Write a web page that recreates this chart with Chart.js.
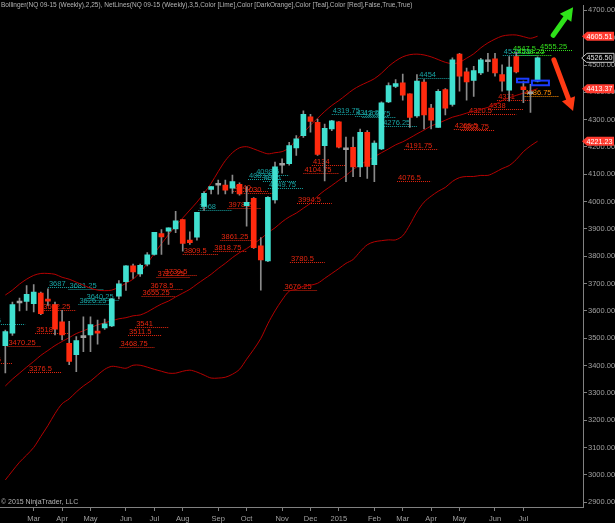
<!DOCTYPE html>
<html>
<head>
<meta charset="utf-8">
<script src="https://cdn.jsdelivr.net/npm/chart.js@4.4.0/dist/chart.umd.min.js"></script>
<style>
  html, body { margin: 0; padding: 0; background: #000; }
  #wrap { width: 615px; height: 523px; }
</style>
</head>
<body>
<div id="wrap"><canvas id="chart" width="615" height="523"></canvas></div>
<script>
// NQ 09-15 weekly bars, week ending 7 Feb 2014 .. 17 Jul 2015 (bar index 0..75)
const opens = [3473,3518,3629,3635,3626,3665,3641,3623,3560,3481,
  3440,3502,3512,3526,3538,3545,3654,3707,3765,3735,
  3771,3807,3883,3892,3900,3934,3859,3870,3982,4045,
  4060,4061,4049,4063,3985,4012,3838,3783,4006,4133,
  4139,4197,4241,4310,4290,4205,4266,4292,4190,4199,
  4127,4254,4135,4193,4365,4422,4435,4395,4314,4438,
  4342,4272,4410,4356,4540,4475,4444,4471,4512,4523,
  4465,4408,4531,4420,4395,4441];
const highs = [3530,3632,3647,3693,3696,3669,3681,3632,3602,3562,
  3506,3578,3578,3566,3570,3645,3711,3766,3771,3771,
  3813,3888,3898,3904,3964,3934,3889,3961,4037,4055,
  4079,4079,4097,4069,4055,4015,3868,4018,4145,4157,
  4217,4242,4332,4320,4302,4284,4298,4293,4236,4236,
  4266,4260,4223,4365,4435,4447,4467,4395,4465,4447,
  4356,4410,4414,4526,4543,4489,4495,4525,4543,4543,
  4501,4531,4547.5,4441,4429,4530];
const lows = [3373,3510,3600,3602,3596,3586,3620,3512,3494,3403,
  3377,3451,3451,3478,3532,3542,3644,3675,3719,3726,
  3765,3804,3807,3843,3886,3819,3843,3859,3968,4028,
  4027,4028,4030,4024,3910,3829,3676,3780,3994,4104,
  4133,4169,4235,4254,4169,4076,4260,4197,4073,4091,
  4091,4085,4073,4190,4362,4417,4371,4272,4308,4266,
  4266,4272,4317,4349,4404,4371,4385,4465,4477,4459,
  4404,4368,4471,4362,4327,4438];
const closes = [3524,3623,3629,3661,3669,3590,3636,3533,3512,3415,
  3491,3502,3550,3518,3553,3644,3699,3765,3743,3767,
  3805,3888,3871,3904,3930,3847,3850,3961,4030,4055,
  4060,4042,4073,4028,3997,3831,3787,4016,4127,4133,
  4205,4230,4320,4294,4173,4268,4296,4199,4190,4127,
  4254,4129,4214,4362,4425,4432,4390,4308,4441,4317,
  4298,4404,4342,4519,4459,4438,4480,4519,4512,4471,
  4441,4493,4475,4410,4395,4526.5];

// Bollinger(2,25)
const bbUpper = [3658,3676,3698,3716,3730,3737,3737,3734,3723,3716,
  3705,3694,3683,3676,3674,3676,3687,3701,3716,3741,
  3774,3810,3846,3879,3911,3940,3969,3998,4031,4067,
  4110,4150,4179,4197,4201,4193,4183,4175,4179,4183,
  4197,4226,4251,4280,4305,4330,4352,4370,4390,4410,
  4425,4437,4450,4470,4495,4515,4530,4538,4540,4537,
  4530,4520,4510,4505,4510,4525,4541,4563,4581,4595,
  4606,4610,4610,4604,4598,4605.51];
const bbMiddle = [3325,3350,3372,3394,3415,3437,3455,3473,3488,3502,
  3517,3527,3538,3549,3556,3564,3571,3575,3582,3585,
  3596,3611,3625,3636,3651,3665,3679,3698,3716,3734,
  3755,3774,3795,3813,3828,3846,3864,3886,3904,3926,
  3944,3958,3976,3994,4020,4041,4059,4078,4096,4117,
  4135,4150,4164,4179,4193,4208,4219,4233,4248,4262,
  4277,4287,4298,4309,4316,4324,4331,4338,4345,4356,
  4370,4380,4389,4397,4405,4413.37];
const bbLower = [2981,3014,3046,3072,3100,3140,3180,3224,3260,3278,
  3303,3325,3343,3365,3386,3397,3394,3390,3401,3401,
  3394,3386,3379,3372,3372,3379,3383,3376,3365,3354,
  3354,3357,3368,3386,3423,3459,3499,3553,3600,3640,
  3672,3679,3690,3694,3701,3719,3737,3755,3774,3788,
  3817,3842,3853,3857,3860,3860,3875,3915,3962,3998,
  4020,4038,4052,4074,4088,4092,4092,4096,4096,4107,
  4121,4132,4154,4183,4204,4221.23];

// first bar of each month on the time axis
const tickBars = [4,8,12,17,21,25,30,34,39,43,47,52,56,60,64,69,73];
const tickLabels = ['Mar','Apr','May','Jun','Jul','Aug','Sep','Oct','Nov','Dec','2015','Feb','Mar','Apr','May','Jun','Jul'];
const priceTicks = [2900,3000,3100,3200,3300,3400,3500,3600,3700,3800,3900,4000,4100,4200,4300,4400,4500,4600,4700];

// NetLines levels: price, first bar, last bar, kind
const netPrices = [3409.5,3470.25,3376.5,3518,3602.25,3541,3511.5,3468.75,3678.5,3655.25,
  3730.5,3722.25,3809.5,3818.75,3861.25,3978.25,4040,4030,3994.5,3780.5,
  3676.25,4134,4104.75,4191.75,4076.5,4266.5,4263.75,4320.5,4338,4371,
  4386.75,
  3550.5,3687,3681.25,3640.25,3626.25,3968,4098.5,4083.5,4075,4049.75,
  4319.75,4312.5,4309.75,4276.25,4454,4535.25,
  4547.5,4538.25,4555.25];
const netFrom = [-4,0.3,3.2,4.2,5.2,18.3,17.3,16.1,20.3,19.2,
  22.3,21.3,25,29.3,30.3,31.3,32.1,33.6,41.1,40.1,
  39.2,43.2,42,56.2,55.2,63.2,64.2,65.2,68,69.3,
  73,
  -4,6,8.9,11.3,10.3,27.2,35.2,34.2,36.3,37,
  46,49.3,50.3,53.1,58.2,70.1,
  71.4,72,75.2];
const netTo = [1,5,8,9,10,23,22,21,25,24,
  27,26,30,34,35,36,37,38,46,45,
  44,48,47,61,60,68,69,72,73,74,
  78,
  2.8,11,13.8,16,15,32,40,39,41,42,
  51,54,55,58,63,75,
  76,77,80];
const netKinds = [].concat(Array(30).fill('red'), ['orange'], Array(16).fill('teal'), Array(3).fill('lime'));

// drawn objects: two rectangles and two arrows (bar index, price)
const boxFrom = [72.1, 74.2];
const boxTo = [73.7, 76.6];
const boxHigh = [4450, 4443];
const boxLow = [4437, 4426];
const arrowStart = [[77.2, 4609], [77.3, 4519]];
const arrowEnd = [[80, 4712], [80, 4332]];
const arrowKinds = ['up', 'down'];

const TEAL = '#40e0d0';
const RED = '#ff2a0e';
const GREY = '#a0a0a0';
const FONT = '"Liberation Sans", Arial, sans-serif';
const netColors = { red: '#e8260f', teal: '#17a3a3', lime: '#33e01c', orange: '#ff8c00' };

const bars = opens.map((o, i) => i);
const bodyColor = bars.map(i => closes[i] > opens[i] ? TEAL : closes[i] < opens[i] ? RED : GREY);

const netLinesPlugin = {
  id: 'netLines',
  beforeDatasetsDraw(chart) {
    const { ctx, chartArea: a, scales: { x, y } } = chart;
    ctx.save();
    ctx.beginPath();
    ctx.rect(a.left, a.top, a.width, a.height);
    ctx.clip();
    ctx.font = '7.5px ' + FONT;
    ctx.lineWidth = 1;
    netPrices.forEach((p, i) => {
      const c = netColors[netKinds[i]];
      const x0 = x.getPixelForValue(netFrom[i]);
      const x1 = x.getPixelForValue(netTo[i]);
      const py = Math.round(y.getPixelForValue(p)) + 0.5;
      ctx.strokeStyle = c;
      ctx.setLineDash([1, 1]);
      ctx.beginPath();
      ctx.moveTo(x0, py);
      ctx.lineTo(x1, py);
      ctx.stroke();
      ctx.fillStyle = c;
      ctx.fillText(String(p), x0 + 1, py - 2);
    });
    ctx.restore();
  }
};

function priceTag(ctx, px, py, text, fill, stroke, color) {
  ctx.beginPath();
  ctx.moveTo(px - 1, py);
  ctx.lineTo(px + 4, py - 4.5);
  ctx.lineTo(px + 31, py - 4.5);
  ctx.lineTo(px + 31, py + 4.5);
  ctx.lineTo(px + 4, py + 4.5);
  ctx.closePath();
  ctx.fillStyle = fill;
  ctx.fill();
  if (stroke) { ctx.strokeStyle = stroke; ctx.lineWidth = 1; ctx.stroke(); }
  ctx.fillStyle = color;
  ctx.textAlign = 'left';
  ctx.textBaseline = 'middle';
  ctx.fillText(text, px + 3.5, py + 0.5);
}

const overlayPlugin = {
  id: 'overlay',
  afterDraw(chart) {
    const { ctx, chartArea: a, scales: { x, y } } = chart;
    ctx.save();

    // blue rectangles
    ctx.strokeStyle = '#1a3cff';
    ctx.lineWidth = 2;
    boxFrom.forEach((b, i) => {
      const x0 = x.getPixelForValue(b), x1 = x.getPixelForValue(boxTo[i]);
      const y0 = y.getPixelForValue(boxHigh[i]), y1 = y.getPixelForValue(boxLow[i]);
      ctx.strokeRect(x0, y0, x1 - x0, y1 - y0);
    });

    // arrows
    arrowStart.forEach((s, i) => {
      const x0 = x.getPixelForValue(s[0]), y0 = y.getPixelForValue(s[1]);
      const x1 = x.getPixelForValue(arrowEnd[i][0]), y1 = y.getPixelForValue(arrowEnd[i][1]);
      const ang = Math.atan2(y1 - y0, x1 - x0);
      const head = 13;
      const bx = x1 - Math.cos(ang) * head, by = y1 - Math.sin(ang) * head;
      const c = arrowKinds[i] === 'up' ? '#2fe21a' : '#ff3a14';
      ctx.strokeStyle = c;
      ctx.fillStyle = c;
      ctx.lineWidth = 5;
      ctx.lineCap = 'round';
      ctx.beginPath();
      ctx.moveTo(x0, y0);
      ctx.lineTo(bx, by);
      ctx.stroke();
      ctx.beginPath();
      ctx.moveTo(x1, y1);
      ctx.lineTo(bx + Math.sin(ang) * 7, by - Math.cos(ang) * 7);
      ctx.lineTo(bx - Math.sin(ang) * 7, by + Math.cos(ang) * 7);
      ctx.closePath();
      ctx.fill();
    });

    // price markers on the right axis
    ctx.font = '7.2px ' + FONT;
    const last = opens.length - 1;
    const rx = a.right;
    priceTag(ctx, rx, y.getPixelForValue(bbUpper[last]), bbUpper[last].toFixed(2), '#ff3b30', null, '#fff');
    priceTag(ctx, rx, y.getPixelForValue(closes[last]), closes[last].toFixed(2), '#000', '#c8c8c8', '#e0e0e0');
    priceTag(ctx, rx, y.getPixelForValue(bbMiddle[last]), bbMiddle[last].toFixed(2), '#ff3b30', null, '#fff');
    priceTag(ctx, rx, y.getPixelForValue(bbLower[last]), bbLower[last].toFixed(2), '#ff3b30', null, '#fff');

    // indicator caption and copyright
    ctx.fillStyle = '#b4b4b4';
    ctx.textAlign = 'left';
    ctx.textBaseline = 'top';
    ctx.font = '6.5px ' + FONT;
    ctx.fillText('Bollinger(NQ 09-15 (Weekly),2,25), NetLines(NQ 09-15 (Weekly),3,5,Color [Lime],Color [DarkOrange],Color [Teal],Color [Red],False,True,True)', 1, 2);
    ctx.textBaseline = 'bottom';
    ctx.font = '7px ' + FONT;
    ctx.fillText('\u00a9 2015 NinjaTrader, LLC', 1, a.bottom - 1);
    ctx.restore();
  }
};

const bgPlugin = {
  id: 'bg',
  beforeDraw(chart) {
    const { ctx } = chart;
    ctx.save();
    ctx.fillStyle = '#000';
    ctx.fillRect(0, 0, chart.width, chart.height);
    ctx.restore();
  }
};

const bandLine = (label, data) => ({
  type: 'line',
  label,
  data: data.map((v, i) => ({ x: i, y: v })),
  borderColor: '#b40000',
  borderWidth: 1,
  pointRadius: 0,
  tension: 0.3,
  order: 3
});

new Chart(document.getElementById('chart'), {
  type: 'bar',
  data: {
    datasets: [
      bandLine('Upper', bbUpper),
      bandLine('Middle', bbMiddle),
      bandLine('Lower', bbLower),
      {
        label: 'Wicks',
        data: bars.map(i => ({ x: i, y: [lows[i], highs[i]] })),
        backgroundColor: '#8a8a8a',
        barThickness: 1,
        grouped: false,
        order: 2
      },
      {
        label: 'Bodies',
        data: bars.map(i => ({ x: i, y: [opens[i], closes[i]] })),
        backgroundColor: bodyColor,
        barThickness: 5,
        minBarLength: 2,
        grouped: false,
        order: 1
      }
    ]
  },
  options: {
    responsive: false,
    animation: false,
    devicePixelRatio: 1,
    layout: { padding: 0 },
    plugins: { legend: { display: false }, tooltip: { enabled: false } },
    scales: {
      x: {
        type: 'linear',
        min: -0.75,
        max: 81.4,
        offset: false,
        grid: { display: true, offset: false, drawOnChartArea: false, drawTicks: true, tickLength: 4, color: '#808080' },
        border: { color: '#808080' },
        ticks: {
          color: GREY,
          font: { family: FONT, size: 7.5 },
          autoSkip: false,
          maxRotation: 0,
          padding: 3,
          callback: v => tickLabels[tickBars.indexOf(v)]
        },
        afterBuildTicks: axis => { axis.ticks = tickBars.map(v => ({ value: v })); },
        afterFit: axis => { axis.height = 16; }
      },
      y: {
        type: 'linear',
        position: 'right',
        min: 2882,
        max: 4718,
        grid: { display: true, drawOnChartArea: false, drawTicks: true, tickLength: 4, color: '#808080' },
        border: { color: '#808080' },
        ticks: {
          color: GREY,
          font: { family: FONT, size: 7.5 },
          padding: 1,
          callback: v => v.toFixed(2)
        },
        afterBuildTicks: axis => { axis.ticks = priceTicks.map(v => ({ value: v })); },
        afterFit: axis => { axis.width = 32; }
      }
    }
  },
  plugins: [bgPlugin, netLinesPlugin, overlayPlugin]
});
</script>
</body>
</html>
